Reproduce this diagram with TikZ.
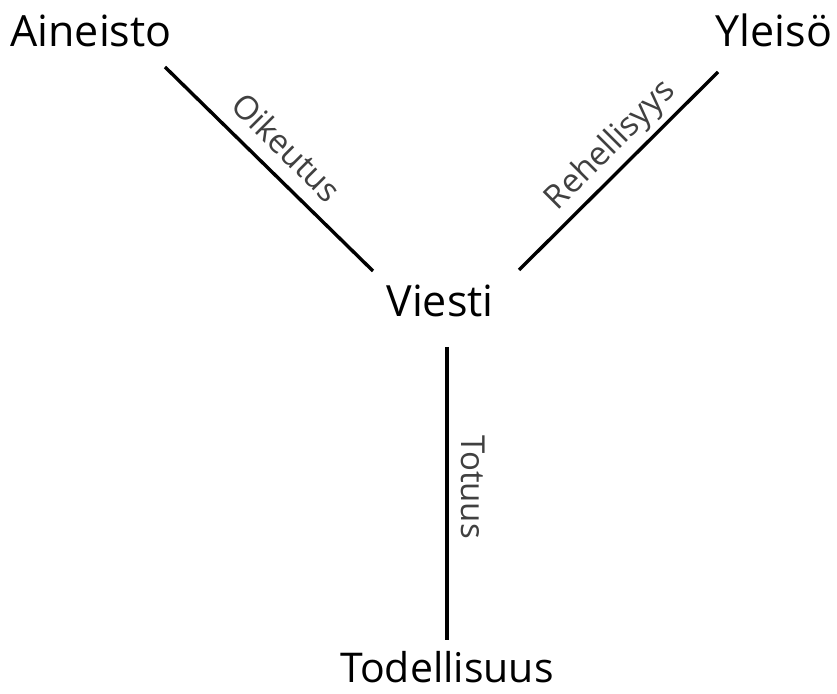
\documentclass[tikz,border=0pt]{standalone}
\usepackage{fontspec}
\setmainfont{Open Sans}
\begin{document}
\begin{tikzpicture}[x=1pt,y=1pt,
  big/.style={font=\fontsize{43}{46}\selectfont, inner sep=0pt, text=black, anchor=base},
  lab/.style={font=\fontsize{33}{36}\selectfont, inner sep=0pt, text=black!75},
  conn/.style={line width=3.4pt, black}]
\useasboundingbox (0,0) rectangle (837,693);
\node[big] (ain) at (91,646) {Aineisto};
\node[big] (yle) at (774,646) {Yleisö};
\node[big] (vie) at (440,376) {Viesti};
\node[big, font=\fontsize{41}{44}\selectfont] (tod) at (447,11) {Todellisuus};
\coordinate (a1) at (165,626);
\coordinate (a2) at (373,422);
\coordinate (y1) at (718,621);
\coordinate (y2) at (519,423);
\coordinate (t1) at (447,346);
\coordinate (t2) at (447,53);
\draw[conn] (a1) -- (a2);
\draw[conn] (y1) -- (y2);
\draw[conn] (t1) -- (t2);
\node[lab, rotate=-45] (oik) at (287,546) {Oikeutus};
\node[lab, rotate=45] (reh) at (611,547) {Rehellisyys};
\node[lab, rotate=-90] (tot) at (473,206) {Totuus};
\end{tikzpicture}
\end{document}
